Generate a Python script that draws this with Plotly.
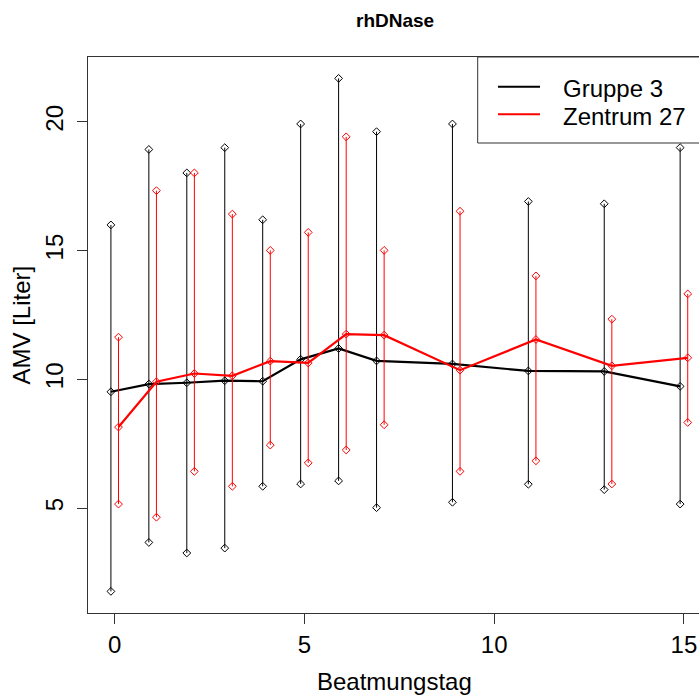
import plotly.graph_objects as go

# Beatmungstag (ventilation day)
days = [0, 1, 2, 3, 4, 5, 6, 7, 9, 11, 13, 15]

# Gruppe 3: mean, lower and upper whisker end
g3_mean = [9.52, 9.82, 9.87, 9.95, 9.93, 10.78, 11.20, 10.72, 10.60, 10.33, 10.31, 9.73]
g3_low = [1.77, 3.67, 3.26, 3.45, 5.85, 5.94, 6.06, 5.02, 5.23, 5.93, 5.72, 5.16]
g3_high = [16.00, 18.93, 18.02, 19.00, 16.20, 19.92, 21.69, 19.62, 19.92, 16.91, 16.82, 19.00]

# Zentrum 27: mean, lower and upper whisker end
z27_mean = [8.15, 9.91, 10.23, 10.14, 10.71, 10.64, 11.76, 11.72, 10.36, 11.55, 10.53, 10.84]
z27_low = [5.16, 4.65, 6.43, 5.85, 7.45, 6.76, 7.26, 8.24, 6.43, 6.84, 5.94, 8.33]
z27_high = [11.64, 17.33, 18.02, 16.42, 15.01, 15.71, 19.42, 15.01, 16.53, 14.02, 12.34, 13.32]

x_ticks = [0, 5, 10, 15]
y_ticks = [5, 10, 15, 20]

FONT = "Liberation Sans, Arial, sans-serif"
W, H = 699, 696
ML, MR, MT, MB = 88, 0, 57, 83
PW, PH = W - ML - MR, H - MT - MB


def px(xp):
    return (xp - ML) / PW


def py(yp):
    return (H - MB - yp) / PH


def series(fig, xs, mean, low, high, color, shift):
    xo = [x + shift for x in xs]
    wx, wy = [], []
    for x, lo, hi in zip(xo, low, high):
        wx += [x, x, None]
        wy += [lo, hi, None]
    fig.add_trace(go.Scatter(x=wx, y=wy, mode="lines",
                             line=dict(color=color, width=1),
                             hoverinfo="skip", showlegend=False))
    fig.add_trace(go.Scatter(x=xo + xo, y=list(low) + list(high), mode="markers",
                             marker=dict(symbol="diamond-open", size=6, color=color,
                                         line=dict(width=1, color=color)),
                             showlegend=False))
    fig.add_trace(go.Scatter(x=xo, y=mean, mode="lines+markers",
                             line=dict(color=color, width=2.2),
                             marker=dict(symbol="diamond-open", size=6, color=color,
                                         line=dict(width=1, color=color)),
                             showlegend=False))


fig = go.Figure()
series(fig, days, g3_mean, g3_low, g3_high, "black", -0.1)
series(fig, days, z27_mean, z27_low, z27_high, "red", 0.1)

axis_common = dict(showgrid=False, zeroline=False, showline=True, linecolor="#333",
                   linewidth=1, ticks="outside", ticklen=10, tickcolor="#333",
                   tickfont=dict(family=FONT, size=24, color="black"))

fig.update_xaxes(range=[-0.7036, 15.397], tickvals=x_ticks, mirror=True,
                 ticklabelstandoff=0, **axis_common)
fig.update_yaxes(range=[0.93, 22.52], tickvals=y_ticks, tickangle=-90,
                 ticklabelstandoff=4, **axis_common)

shapes = [
    # legend frame
    dict(type="rect", xref="paper", yref="paper", x0=px(477.7), x1=px(712),
         y0=py(143), y1=py(57), fillcolor="white", line=dict(color="#333", width=1),
         layer="above"),
    dict(type="line", xref="paper", yref="paper", x0=px(498), x1=px(540),
         y0=py(86.7), y1=py(86.7), line=dict(color="black", width=2), layer="above"),
    dict(type="line", xref="paper", yref="paper", x0=px(498), x1=px(540),
         y0=py(114.3), y1=py(114.3), line=dict(color="red", width=2), layer="above"),
]

annotations = [
    dict(text="<b>rhDNase</b>", x=px(395), y=py(21), xref="paper", yref="paper",
         showarrow=False, xanchor="center", yanchor="middle",
         font=dict(family=FONT, size=19, color="black")),
    dict(text="Beatmungstag", x=px(394.5), y=py(682), xref="paper", yref="paper",
         showarrow=False, xanchor="center", yanchor="middle",
         font=dict(family=FONT, size=24, color="black")),
    dict(text="AMV [Liter]", x=px(21), y=py(325.5), xref="paper", yref="paper",
         showarrow=False, xanchor="center", yanchor="middle", textangle=-90,
         font=dict(family=FONT, size=24, color="black")),
    dict(text="Gruppe 3", x=px(561), y=py(88), xref="paper", yref="paper",
         showarrow=False, xanchor="left", yanchor="middle",
         font=dict(family=FONT, size=24, color="black")),
    dict(text="Zentrum 27", x=px(561), y=py(116), xref="paper", yref="paper",
         showarrow=False, xanchor="left", yanchor="middle",
         font=dict(family=FONT, size=24, color="black")),
]

fig.update_layout(width=W, height=H, margin=dict(l=ML, r=MR, t=MT, b=MB),
                  paper_bgcolor="white", plot_bgcolor="white",
                  shapes=shapes, annotations=annotations, showlegend=False)

fig.write_html("out.html")
